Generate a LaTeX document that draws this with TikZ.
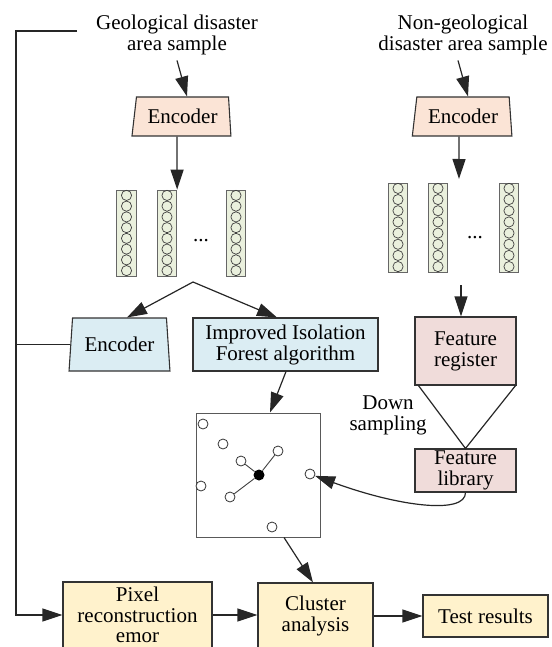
\documentclass[tikz,border=0pt]{standalone}
\usepackage{fontspec}
\setmainfont{Liberation Serif}
\usetikzlibrary{arrows.meta,shapes.geometric,calc}
\definecolor{peach}{HTML}{FBE4D6}
\definecolor{lblue}{HTML}{DBEDF3}
\definecolor{lpink}{HTML}{F0DCDA}
\definecolor{lyellow}{HTML}{FFF2CC}
\definecolor{lgreen}{HTML}{EAF0DD}
\definecolor{boxline}{HTML}{333333}
\begin{document}
\begin{tikzpicture}[x=1pt,y=-1pt,
  every node/.style={font=\fontsize{21}{21}\selectfont, inner sep=0pt},
  box/.style={draw=boxline, line width=1.1pt, rectangle, align=center},
  enc/.style={draw=boxline, line width=1.1pt, trapezium, trapezium stretches=true,
    trapezium left angle=80, trapezium right angle=80, align=center},
  colbox/.style={draw=gray!80!black, line width=0.8pt, fill=lgreen, rectangle, minimum width=19.5pt},
  colcirc/.style={draw=black!75, line width=0.7pt},
  pt/.style={circle, draw=black!80, line width=0.8pt, fill=white, minimum size=10pt},
  conn/.style={line width=1.2pt, draw=black!85},
  arr/.style={conn, -{Triangle[length=20pt,width=13pt]}},
  thin/.style={line width=0.9pt, draw=black!75}
]
\useasboundingbox (0,0) rectangle (551,647);

% top labels
\node[align=center, font=\fontsize{21}{21.5}\selectfont] (geo) at (177,35) {Geological disaster\\area sample};
\node[align=center, font=\fontsize{21}{21.5}\selectfont] (ngeo) at (463,35) {Non-geological\\disaster area sample};

% encoders
\node[enc, fill=peach, minimum width=99pt, minimum height=39pt, trapezium left angle=77, trapezium right angle=83] (enc1) at (182.5,116.5) {Encoder};
\node[enc, fill=peach, minimum width=100pt, minimum height=39pt, trapezium left angle=77, trapezium right angle=82] (enc2) at (463,116.5) {Encoder};
\node[enc, fill=lblue, minimum width=101pt, minimum height=53pt] (enc3) at (119.5,344.5) {Encoder};

% feature columns
\foreach \n/\cx/\ty/\by in {a1/126.5/190/276, a2/167/190/276, a3/236/190/276, b1/398/183/272, b2/438/183/272, b3/509/183/272}{
  \node[colbox, minimum height={\by-\ty}] (\n) at (\cx,{(\ty+\by)/2}) {};
  \foreach \k in {0,...,7}{
    \draw[colcirc] (\cx,{\ty+5.4+\k*(\by-\ty-10.8)/7}) circle[radius=5.1];
  }
}
\node (dotsa) at (201,241) {...};
\node (dotsb) at (475,238) {...};

% boxes
\node[box, fill=lblue, minimum width=185pt, minimum height=53pt] (iif) at (285.5,344.5) {Improved Isolation\\Forest algorithm};
\node[box, fill=lpink, minimum width=101pt, minimum height=68pt] (freg) at (465.5,351) {Feature\\register};
\node[box, fill=lpink, minimum width=101pt, minimum height=43pt] (flib) at (465.5,470.5) {Feature\\library};
\node[align=center] (down) at (388,415) {Down\\sampling};
\node[draw=black!65, line width=1pt, minimum width=124pt, minimum height=124pt] (scat) at (258,475) {};
\node[box, fill=lyellow, minimum width=149pt, minimum height=66pt, font=\fontsize{21}{20.5}\selectfont] (pix) at (137.5,615) {Pixel\\reconstruction\\emor};
\node[box, fill=lyellow, minimum width=115pt, minimum height=65pt] (clu) at (315.5,615.5) {Cluster\\analysis};
\node[box, fill=lyellow, minimum width=125pt, minimum height=42pt] (test) at (485.5,616) {Test results};

% scatter points
\node[pt] (p1) at (203,424) {};
\node[pt] (p2) at (223,444) {};
\node[pt] (p3) at (241,461) {};
\node[pt] (p4) at (278,451) {};
\node[pt] (p5) at (201,486) {};
\node[pt] (p6) at (230,497) {};
\node[pt] (p7) at (272,527) {};
\node[pt] (p8) at (310,474) {};
\node[circle, fill=black, minimum size=11pt] (hub) at (259,475) {};
\draw[thin] (hub) -- (p3);
\draw[thin] (hub) -- (p4);
\draw[thin] (hub) -- (p6);

% coordinates
\coordinate (split) at (193,282);
\coordinate (c2in) at (459,179);
\coordinate (rcol) at (461,285);
\coordinate (brtop) at (77,31);
\coordinate (brcorner) at (16,31);

% connectors
\draw[arr] ($(geo.south)+(0,5)$) -- ($(enc1.north)+(4.5,0)$);
\draw[arr] ($(enc1.south)+(-5.5,0)$) -- (a2.north east);
\draw[arr] ($(ngeo.south)+(-5,5)$) -- ($(enc2.north)+(5,0)$);
\draw[arr] ($(enc2.south)+(-4,0)$) -- (c2in);
\draw[arr] (split) -- ($(enc3.north)+(7.5,0)$);
\draw[arr] (split) -- ($(iif.north)+(-8.5,0)$);
\draw[arr] (rcol) -- ($(freg.north)+(-4.5,0)$);
\draw[conn] ($(freg.south west)+(4,0)$) -- (flib.north) -- ($(freg.south east)+(-1,0)$);
\draw[arr] ($(iif.south)+(0.5,0)$) -- ($(scat.north)+(12,0)$);
\draw[arr] (flib.south) .. controls +(0,22) and (400,507) .. (p8);
\draw[arr] ($(scat.south)+(26,0)$) -- ($(clu.north)+(-2.5,0)$);
\draw[arr] (brtop) -- (brcorner) -- (brcorner |- pix.west) -- (pix.west);
\draw[conn] (brcorner |- enc3.west) -- (enc3.west);
\draw[arr] (pix.east) -- (pix.east -| clu.west);
\draw[arr] (clu.east |- test.west) -- (test.west);
\end{tikzpicture}
\end{document}
